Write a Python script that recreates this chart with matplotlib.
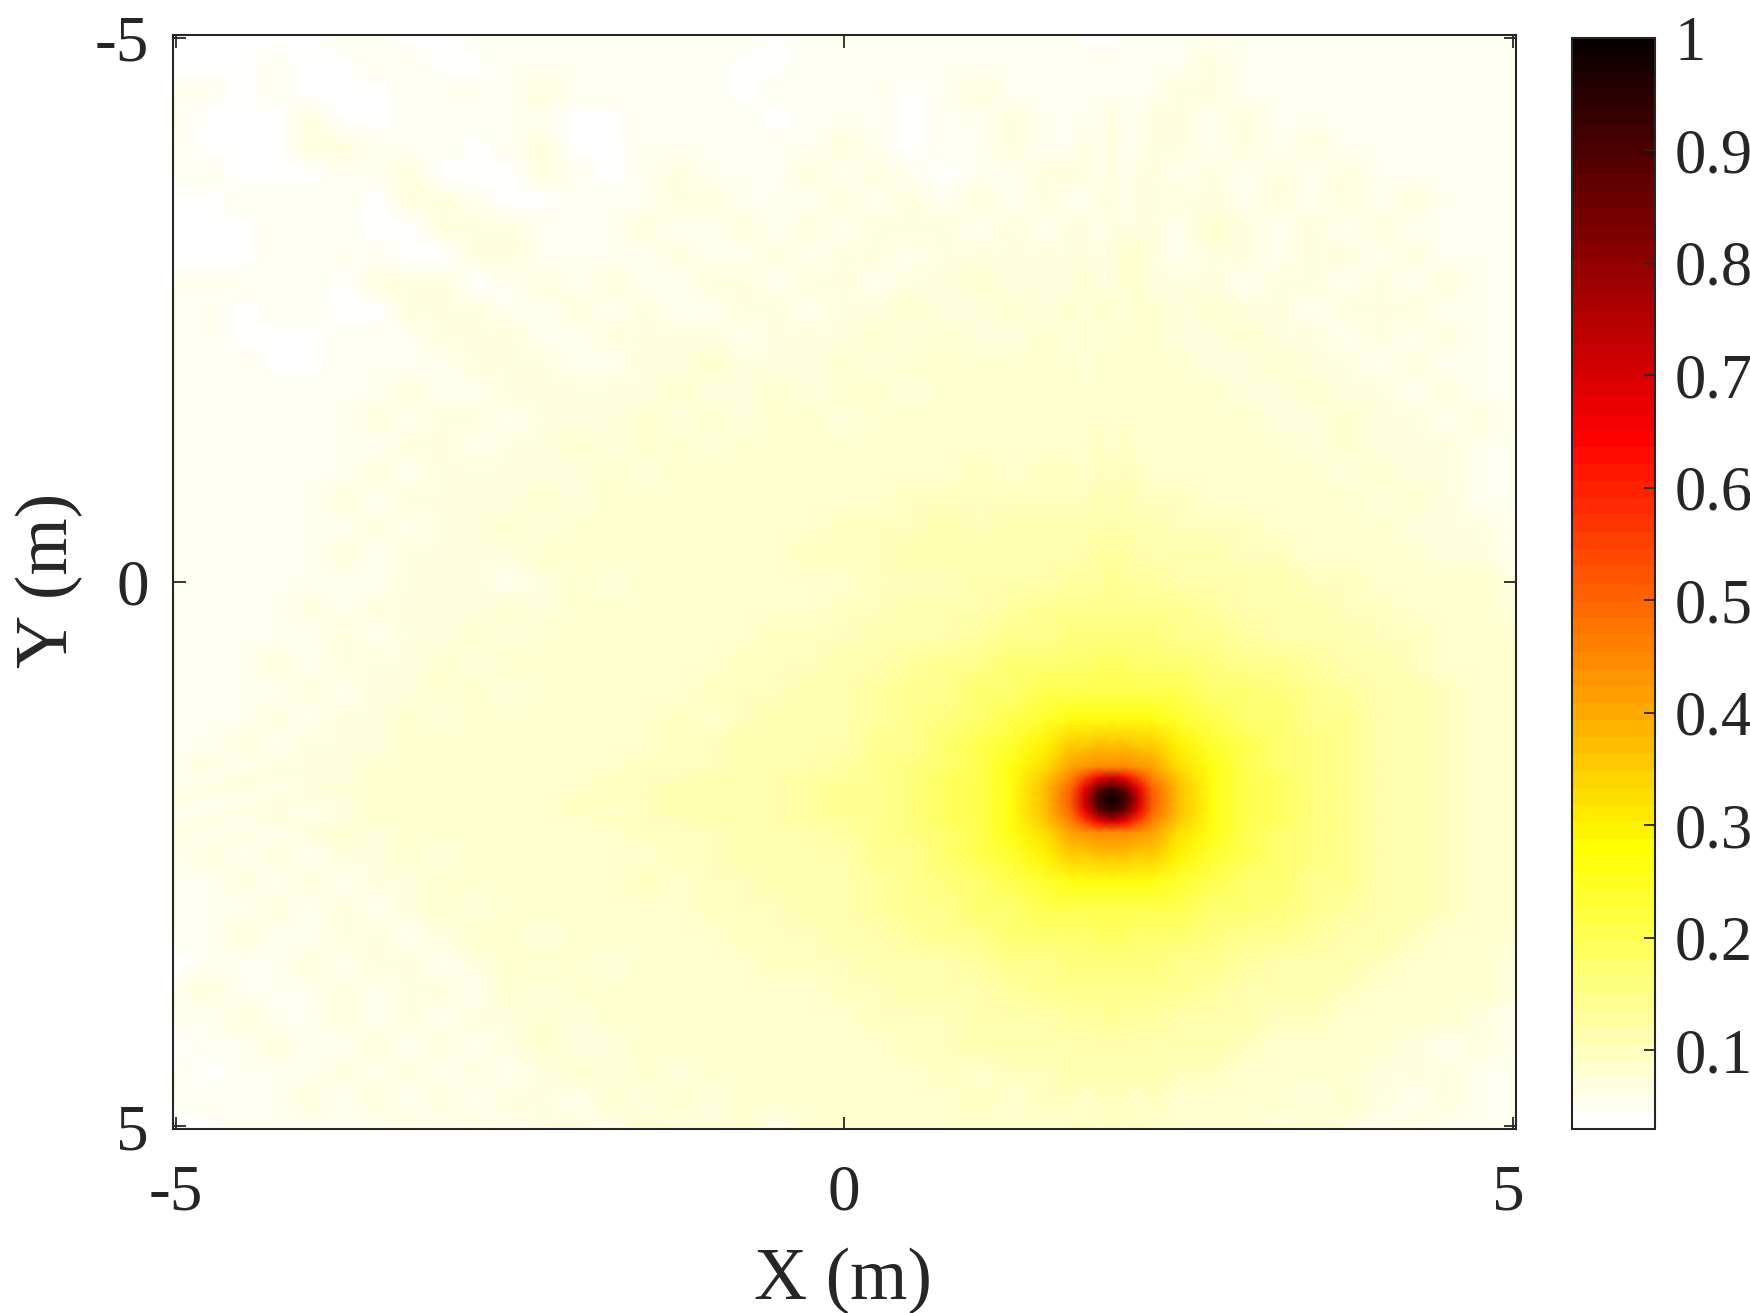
#!/usr/bin/env python3
"""
Normalised power map over the X-Y plane with a single focal spot
"""
import numpy as np
import matplotlib
matplotlib.use('Agg')
import matplotlib.pyplot as plt
from matplotlib.transforms import ScaledTranslation

# grid nodes in metres, denser around the focal spot
x_nodes = [-5.025, -4.75, -4.5, -4.25, -4, -3.75, -3.5, -3.25, -3,
           -2.75, -2.5, -2.25, -2, -1.75, -1.5, -1.25, -1, -0.75,
           -0.5, -0.25, 0, 0.25, 0.5, 0.75, 1, 1.25, 1.5,
           1.7, 1.8, 1.9, 2, 2.1, 2.2, 2.3,
           2.5, 2.75, 3, 3.25, 3.5, 3.75, 4, 4.25, 4.5, 4.75, 5.025]
y_nodes = list(x_nodes)

# values in percent, one row per y node (top of the picture first)
power_percent = [
    [4,4,3,4,4,5,6,4,3, 5,5,5,5,6,5,5,5,5, 4,5,5,6,5,6,5,6,6, 6,4,4,4,5,6,6, 5,6,6,5,6,6,5,6,5,6,5],
    [4,3,3,5,4,4,6,5,3, 4,6,5,6,5,5,6,5,4, 4,6,5,6,6,6,6,5,6, 6,5,5,6,6,5,5, 6,7,6,6,5,6,5,6,6,5,6],
    [5,5,4,6,3,3,4,6,5, 5,5,7,5,5,6,6,6,4, 5,6,6,6,4,6,7,6,6, 6,6,6,6,6,5,6, 7,7,6,6,6,5,6,6,5,6,5],
    [5,4,3,3,7,3,4,5,6, 5,6,6,3,4,6,6,6,5, 4,6,6,6,3,6,6,7,6, 6,6,6,7,6,6,7, 7,6,7,6,6,6,6,5,6,5,6],
    [5,3,3,3,7,7,5,5,5, 3,5,7,4,3,6,6,6,6, 5,6,7,6,3,6,5,7,6, 6,7,6,7,6,6,7, 7,6,7,6,7,6,6,6,6,5,6],
    [5,5,4,3,3,5,6,7,3, 3,4,7,6,3,6,7,6,6, 6,7,6,7,6,4,6,6,7, 7,7,6,7,6,7,7, 6,7,6,7,6,7,6,6,6,6,5],
    [3,4,5,5,5,6,3,7,7, 6,3,4,6,6,5,7,7,6, 6,6,7,6,7,6,7,5,7, 6,6,7,7,6,7,7, 7,7,6,7,6,7,6,7,5,6,6],
    [3,3,3,5,6,6,3,3,7, 7,7,5,5,6,7,5,6,7, 6,7,6,7,7,7,6,7,6, 7,7,5,7,7,7,7, 6,8,7,5,7,6,7,6,6,5,6],
    [4,3,3,5,6,5,6,3,3, 7,7,6,6,6,6,7,6,6, 7,6,7,7,6,7,7,7,7, 7,7,7,7,8,8,7, 6,7,7,5,7,7,6,7,6,6,5],
    [5,6,5,5,5,3,7,7,7, 4,6,7,6,7,6,6,7,7, 6,7,7,6,7,7,8,7,7, 7,8,7,7,8,8,7, 7,7,6,7,7,6,7,6,7,6,6],
    [5,5,4,5,5,3,4,7,7, 7,5,6,7,6,7,6,6,7, 7,6,7,7,8,7,7,8,7, 8,7,8,8,7,8,8, 7,8,7,7,6,7,7,7,6,6,6],
    [5,5,4,3,3,5,6,5,7, 7,7,6,5,7,7,7,7,6, 7,7,7,8,7,8,7,7,8, 7,8,7,8,8,9,8, 7,7,8,7,7,6,7,6,7,6,6],
    [5,6,5,4,3,5,6,6,5, 7,7,7,6,6,7,7,8,7, 7,7,8,7,8,8,8,8,8, 8,7,8,8,8,8,8, 8,7,7,8,7,7,6,7,6,6,6],
    [6,5,6,6,5,6,6,7,6, 5,7,7,7,7,7,8,7,7, 8,7,8,8,7,8,9,8,9, 8,9,8,9,8,8,9, 8,8,7,7,8,7,7,6,7,6,6],
    [5,6,5,6,6,5,7,6,7, 7,6,7,7,7,8,7,8,7, 8,8,7,8,9,8,9,8,9, 9,8,9,9,9,9,8, 8,8,8,7,7,8,7,7,6,7,5],
    [6,5,6,6,5,6,6,7,7, 6,7,7,8,7,8,8,7,8, 8,8,9,8,9,8,9,9,9, 9,9,10,9,10,9,9, 9,9,8,8,7,8,7,7,7,6,6],
    [5,6,6,5,6,6,7,6,7, 7,7,7,7,8,7,8,8,8, 8,9,8,9,9,9,10,9,10, 10,9,10,10,10,10,9, 9,9,9,8,8,7,8,7,7,6,6],
    [5,6,5,6,6,7,6,7,7, 7,7,8,7,8,8,8,8,9, 9,8,9,9,10,10,10,10,10, 10,10,11,10,11,10,10, 10,9,9,9,8,8,7,8,7,6,6],
    [6,5,6,6,6,6,7,6,7, 7,8,7,8,8,8,9,8,9, 9,9,10,10,10,11,10,11,11, 11,11,11,12,11,11,11, 10,10,10,9,9,8,8,7,7,7,6],
    [5,6,6,5,6,7,6,7,7, 7,7,8,8,8,9,8,9,9, 9,10,10,10,11,11,12,12,12, 12,12,13,13,13,12,12, 12,11,10,10,9,9,8,8,7,7,6],
    [6,6,5,6,6,6,6,7,7, 7,6,7,8,7,8,8,8,8, 9,9,9,10,10,10,11,12,12, 13,13,13,14,13,13,13, 12,12,11,11,10,10,9,9,8,8,7],
    [6,5,6,6,7,6,7,7,7, 7,8,7,8,8,8,8,9,9, 9,9,10,10,11,11,12,13,14, 14,14,15,15,15,14,14, 14,13,12,11,11,10,10,9,9,8,7],
    [5,6,6,6,6,7,6,7,7, 8,7,8,8,8,9,8,9,9, 10,10,10,11,12,12,13,15,15, 16,16,16,16,16,16,16, 15,14,13,12,12,11,10,10,9,8,8],
    [6,6,6,7,6,7,7,7,8, 7,8,8,8,9,8,9,9,10, 10,10,11,12,13,14,15,17,18, 18,18,19,19,19,18,18, 17,16,15,14,13,12,11,10,9,9,8],
    [6,5,6,6,7,6,7,7,8, 8,7,8,9,8,9,9,10,10, 10,11,12,13,14,15,17,18,20, 21,21,21,21,21,21,21, 20,18,17,16,14,13,12,11,10,9,8],
    [6,6,6,7,6,7,7,8,7, 8,8,8,8,9,9,10,9,10, 11,11,12,13,15,16,18,21,24, 26,27,27,27,27,27,26, 24,21,18,17,15,14,12,11,10,9,8],
    [6,6,7,6,7,7,7,8,8, 8,8,8,9,9,9,10,10,11, 11,12,12,14,15,17,20,24,29, 35,36,37,37,37,36,35, 29,24,20,17,16,14,12,11,10,9,8],
    [6,7,6,7,7,7,8,8,8, 8,9,8,9,9,10,10,10,11, 12,12,13,14,16,18,21,26,33, 42,43,44,45,44,43,42, 33,26,21,18,16,14,12,11,10,9,8],
    [6,6,7,7,7,7,8,8,9, 8,9,9,9,10,10,10,11,11, 12,13,13,15,16,19,21,27,35, 46,56,66,72,66,56,46, 35,27,21,19,16,14,12,11,10,9,8],
    [6,7,7,6,7,8,8,8,9, 9,8,9,9,10,10,11,11,12, 12,13,14,15,16,19,21,27,37, 50,68,85,93,85,68,50, 37,27,21,19,16,14,12,11,10,9,8],
    [7,6,6,7,7,7,8,8,8, 9,9,9,10,10,10,11,11,12, 12,13,14,15,16,19,21,27,37, 52,72,93,100,93,72,52, 37,27,21,19,16,14,12,11,10,9,8],
    [6,6,7,7,6,7,8,8,9, 8,9,9,10,9,10,11,11,12, 12,13,14,15,16,19,21,27,37, 50,68,85,93,85,68,50, 37,27,21,19,16,14,12,11,10,9,8],
    [6,7,6,7,7,7,8,9,8, 9,8,9,9,10,10,10,11,11, 12,13,13,15,16,19,21,27,35, 46,56,66,72,66,56,46, 35,27,21,19,16,14,12,11,10,9,8],
    [7,6,7,6,7,8,7,8,8, 8,9,9,9,9,10,10,10,11, 12,12,13,14,16,18,21,26,33, 42,43,44,45,44,43,42, 33,26,21,18,16,14,12,11,10,9,8],
    [6,7,6,7,6,7,7,8,7, 8,9,8,9,9,9,10,10,11, 11,12,12,14,15,17,20,24,29, 35,36,37,37,37,36,35, 29,24,20,17,16,14,12,11,10,9,8],
    [6,6,7,6,7,6,7,7,8, 8,8,9,8,9,10,9,10,10, 11,11,12,13,15,16,18,21,24, 26,27,27,27,27,27,26, 24,21,18,17,15,14,12,11,10,9,8],
    [5,6,6,7,6,7,6,7,8, 7,8,8,9,9,9,9,10,10, 10,11,12,13,14,15,17,18,20, 21,21,21,21,21,21,21, 20,18,17,16,14,13,12,11,10,9,8],
    [6,5,7,6,6,7,7,6,7, 8,8,7,8,9,8,9,9,10, 10,10,11,12,13,14,15,17,18, 18,18,19,19,19,18,18, 17,16,15,14,13,12,11,10,9,8,8],
    [4,6,6,5,7,6,7,7,6, 7,8,8,8,7,9,8,9,9, 10,10,10,11,12,12,13,15,15, 16,16,16,16,16,16,16, 15,14,13,12,12,11,10,9,9,8,7],
    [6,7,5,6,6,7,5,7,7, 6,8,7,8,8,8,8,9,9, 9,9,10,10,11,11,12,13,14, 14,14,15,15,15,14,14, 14,13,12,11,11,10,9,9,8,8,7],
    [5,6,7,6,5,7,6,7,5, 7,7,8,7,8,8,8,8,9, 9,9,9,10,10,10,11,12,12, 13,13,13,14,13,13,13, 12,12,11,10,10,9,9,8,8,7,6],
    [4,6,5,7,6,5,7,6,7, 5,7,8,7,7,8,8,8,8, 9,9,9,9,10,10,11,11,12, 12,12,12,12,12,12,12, 11,11,10,9,9,8,8,7,6,7,6],
    [6,4,6,6,5,7,5,7,6, 7,5,7,8,7,8,7,8,8, 8,8,9,9,9,10,9,10,10, 11,11,11,12,11,11,11, 10,10,9,9,8,8,7,7,7,5,6],
    [5,6,5,5,7,5,7,6,7, 5,7,7,5,8,7,8,7,8, 8,8,9,8,9,9,10,9,10, 10,9,10,10,10,9,10, 9,9,9,8,7,8,7,6,7,5,5],
    [3,4,6,5,6,6,5,7,6, 7,6,7,7,5,8,7,7,8, 6,8,8,9,8,9,9,8,9, 9,10,9,10,9,10,9, 9,8,8,7,8,7,6,7,5,6,5],
]

axis_limit = 5.025
axis_ticks = [-5, 0, 5]
axis_tick_labels = ['-5', '0', '5']
cbar_ticks = [0.1, 0.2, 0.3, 0.4, 0.5, 0.6, 0.7, 0.8, 0.9, 1]
cbar_tick_labels = ['0.1', '0.2', '0.3', '0.4', '0.5', '0.6', '0.7', '0.8', '0.9', '1']

W, H = 1750, 1313
TEXT = '#262626'
plt.rcParams['font.family'] = ['Liberation Serif', 'DejaVu Serif']


def frac_box(left, top, right, bottom):
    """pixel box to figure fractions"""
    return [left / W, 1 - bottom / H, (right - left) / W, (bottom - top) / H]


fig = plt.figure(figsize=(W / 100, H / 100), dpi=100)
ax = fig.add_axes(frac_box(172.5, 35, 1516, 1129))
cax = fig.add_axes(frac_box(1571.5, 38, 1655, 1129))

# inverted colormap with the 64 steps of the original palette
cmap = plt.get_cmap('hot_r', 64)
values = np.array(power_percent) / 100.0
mesh = ax.pcolormesh(x_nodes, y_nodes, values, cmap=cmap, vmin=0.03, vmax=1,
                     shading='gouraud', rasterized=True)

ax.set_xlim(-axis_limit, axis_limit)
ax.set_ylim(axis_limit, -axis_limit)
ax.set_xticks(axis_ticks)
ax.set_xticklabels(axis_tick_labels)
ax.set_yticks(axis_ticks)
ax.set_yticklabels(axis_tick_labels)
ax.tick_params(direction='in', top=True, right=True, length=9, width=1.3,
               color=TEXT, labelsize=47, labelcolor=TEXT)
ax.tick_params(axis='x', pad=25)
ax.tick_params(axis='y', pad=17)
for spine in ax.spines.values():
    spine.set_linewidth(1.5)
    spine.set_color(TEXT)

# last x label sits a little left of its tick in the original
last_label = ax.get_xticklabels()[-1]
last_label.set_transform(last_label.get_transform()
                         + ScaledTranslation(-0.04, 0, fig.dpi_scale_trans))

fig.text(843 / W, 1 - 1281 / H, 'X (m)', fontsize=53, color=TEXT,
         ha='center', va='center')
fig.text(49 / W, 1 - 580 / H, 'Y (m)', fontsize=53, color=TEXT,
         ha='center', va='center', rotation=90)

cbar = fig.colorbar(mesh, cax=cax)
cbar.set_ticks(cbar_ticks)
cbar.set_ticklabels(cbar_tick_labels)
cbar.ax.tick_params(direction='in', length=8, width=1.3, color=TEXT,
                    labelsize=45, labelcolor=TEXT, pad=14)
cbar.outline.set_linewidth(1.5)
cbar.outline.set_edgecolor(TEXT)

fig.savefig('out.png', dpi=100)
print('Saved plot: out.png')
